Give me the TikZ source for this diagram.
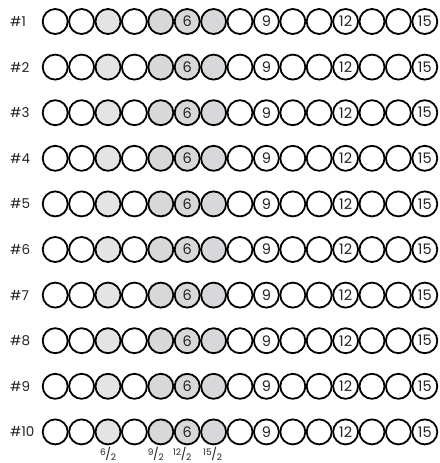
\documentclass[tikz,border=0pt]{standalone}
\usepackage{fontspec}
\setmainfont{Poppins}
\definecolor{lightg}{HTML}{E4E4E6}
\definecolor{darkg}{HTML}{D8D8DA}
\definecolor{ink}{HTML}{222222}
\newcommand{\myfrac}[2]{\raisebox{3.5pt}{\fontsize{9}{9}\selectfont #1}\kern-0.3pt{\fontsize{12}{12}\selectfont/}\kern-0.3pt\raisebox{-1.5pt}{\fontsize{9}{9}\selectfont #2}}
\begin{document}
\begin{tikzpicture}[x=1pt,y=1pt,
  bead/.style={circle,draw=black,line width=1.8pt,minimum size=25pt,inner sep=0pt,font=\fontsize{14.5}{14.5}\selectfont,text=ink},
  rowlab/.style={anchor=west,font=\fontsize{13.5}{13.5}\selectfont,text=ink,inner sep=0pt},
  frac/.style={text=ink,inner sep=0pt}]
\useasboundingbox (0,0) rectangle (439,-463);
\foreach \j in {1,...,10}{
  \pgfmathsetmacro{\yy}{-21.5-(\j-1)*45.6}
  \node[rowlab] (lab\j) at (10,\yy) {\#\j};
  \foreach \i in {1,...,15}{
    \pgfmathsetmacro{\xx}{55.2+(\i-1)*26.4}
    \ifnum\i=3 \def\fc{lightg}\else
    \ifnum\i=5 \def\fc{darkg}\else
    \ifnum\i=6 \def\fc{darkg}\else
    \ifnum\i=7 \def\fc{darkg}\else
    \def\fc{white}\fi\fi\fi\fi
    \ifnum\i=6 \def\tx{6}\else
    \ifnum\i=9 \def\tx{9}\else
    \ifnum\i=12 \def\tx{12}\else
    \ifnum\i=15 \def\tx{15}\else
    \def\tx{}\fi\fi\fi\fi
    \node[bead,fill=\fc] (c\j-\i) at (\xx,\yy) {\tx};
  }
}
\node[frac] (f6) at ([yshift=-22pt]c10-3.center) {\myfrac{6}{2}};
\node[frac] (f9) at ([xshift=-5pt,yshift=-22pt]c10-5.center) {\myfrac{9}{2}};
\node[frac] (f12) at ([xshift=-5pt,yshift=-22pt]c10-6.center) {\myfrac{12}{2}};
\node[frac] (f15) at ([xshift=-1pt,yshift=-22pt]c10-7.center) {\myfrac{15}{2}};
\end{tikzpicture}
\end{document}
